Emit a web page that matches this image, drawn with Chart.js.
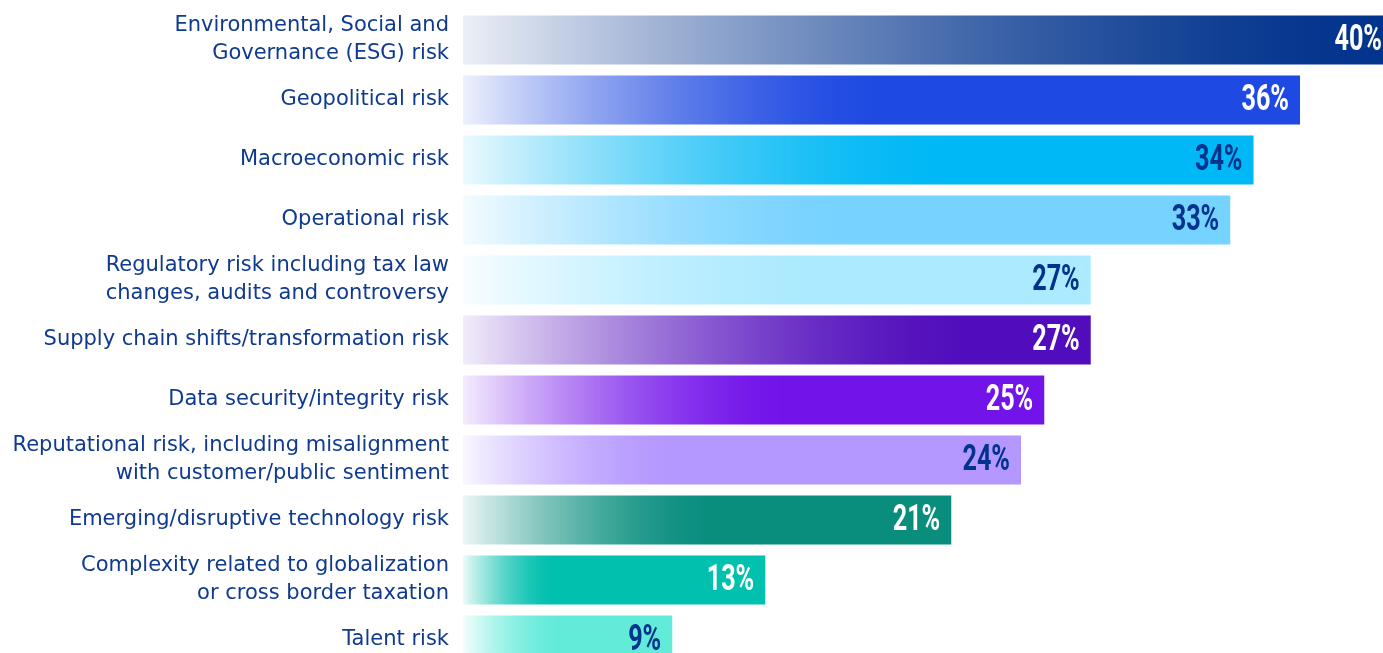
<!DOCTYPE html>
<html lang="en">
<head>
<meta charset="utf-8">
<title>Risk priorities</title>
<script src="https://cdn.jsdelivr.net/npm/chart.js@4/dist/chart.umd.min.js"></script>
<style>
    html, body { margin: 0; padding: 0; background: #fff; overflow: hidden; }
    #riskChart { display: block; }
</style>
</head>
<body>
<canvas id="riskChart" width="1393" height="670"></canvas>
<script>
/* ============================================
   Risk ranking - horizontal gradient bars
   ============================================ */

const categories = [
    ['Environmental, Social and', 'Governance (ESG) risk'],
    'Geopolitical risk',
    'Macroeconomic risk',
    'Operational risk',
    ['Regulatory risk including tax law', 'changes, audits and controversy'],
    'Supply chain shifts/transformation risk',
    'Data security/integrity risk',
    ['Reputational risk, including misalignment', 'with customer/public sentiment'],
    'Emerging/disruptive technology risk',
    ['Complexity related to globalization', 'or cross border taxation'],
    'Talent risk'
];

const values = [40, 36, 34, 33, 27, 27, 25, 24, 21, 13, 9];

// bar colour, length of the fade-in (fraction of bar), label colour
const barColors  = ['#00338D', '#1E49E2', '#00B8F5', '#76D2FF', '#ACEAFF', '#510DBC',
                    '#7213EA', '#B497FF', '#098E7E', '#00C0AE', '#63EBDA'];
const fadeStops  = [1.0, 0.5, 0.6, 0.5, 0.55, 0.8, 0.55, 0.38, 0.5, 0.3, 0.45];
const labelInk   = ['#fff', '#fff', '#00338D', '#00338D', '#00338D', '#fff',
                    '#fff', '#00338D', '#fff', '#fff', '#00338D'];

const NAVY = '#0f3a8f';

function hexToRgba(hex, a) {
    const n = parseInt(hex.slice(1), 16);
    return `rgba(${(n >> 16) & 255}, ${(n >> 8) & 255}, ${n & 255}, ${a})`;
}

// gentle ease-out fade from a pale tint to the full bar colour
function barGradient(context) {
    const chart = context.chart;
    const i = context.dataIndex;
    if (!chart.chartArea || i === undefined) return barColors[i] || '#000';
    const x = chart.scales.x;
    const x0 = x.getPixelForValue(0);
    const x1 = x.getPixelForValue(values[i]);
    const g = chart.ctx.createLinearGradient(x0, 0, x1, 0);
    const stop = fadeStops[i];
    const steps = 10;
    for (let s = 0; s <= steps; s++) {
        const t = s / steps;
        const a = 0.08 + 0.92 * (1 - Math.pow(1 - t, 1.6));
        g.addColorStop(t * stop, hexToRgba(barColors[i], a.toFixed(3)));
    }
    if (stop < 1) g.addColorStop(1, hexToRgba(barColors[i], 1));
    return g;
}

// percentage written inside the end of each bar, in a narrow bold face
const valueLabels = {
    id: 'valueLabels',
    afterDatasetsDraw(chart) {
        const ctx = chart.ctx;
        const meta = chart.getDatasetMeta(0);
        const squeeze = 0.7;
        ctx.save();
        ctx.font = 'bold 36px Roboto, "Liberation Sans", sans-serif';
        ctx.textAlign = 'right';
        ctx.textBaseline = 'middle';
        meta.data.forEach((bar, i) => {
            ctx.save();
            ctx.translate(bar.x - 11, bar.y + 1);
            ctx.scale(squeeze, 1);
            ctx.fillStyle = labelInk[i];
            ctx.fillText(values[i] + '%', 0, 0);
            ctx.restore();
        });
        ctx.restore();
    }
};

new Chart(document.getElementById('riskChart'), {
    type: 'bar',
    data: {
        labels: categories,
        datasets: [{
            data: values,
            backgroundColor: barGradient,
            borderWidth: 0,
            barPercentage: 0.817,
            categoryPercentage: 1
        }]
    },
    options: {
        indexAxis: 'y',
        responsive: false,
        animation: false,
        devicePixelRatio: 1,
        layout: { autoPadding: false, padding: { top: 10, bottom: 0, left: 0, right: 0 } },
        plugins: {
            legend: { display: false },
            tooltip: { enabled: false }
        },
        scales: {
            x: {
                display: false,
                min: 0,
                max: 40
            },
            y: {
                // fixed label column; rows fill the full height
                afterFit(scale) {
                    scale.width = 463;
                    scale.paddingTop = 0;
                    scale.paddingBottom = 0;
                },
                grid: { display: false, drawTicks: false },
                border: { display: false },
                ticks: {
                    color: NAVY,
                    padding: 14,
                    font: { family: '"DejaVu Sans", sans-serif', size: 21, lineHeight: 1.33 }
                }
            }
        }
    },
    plugins: [valueLabels]
});
</script>
</body>
</html>
